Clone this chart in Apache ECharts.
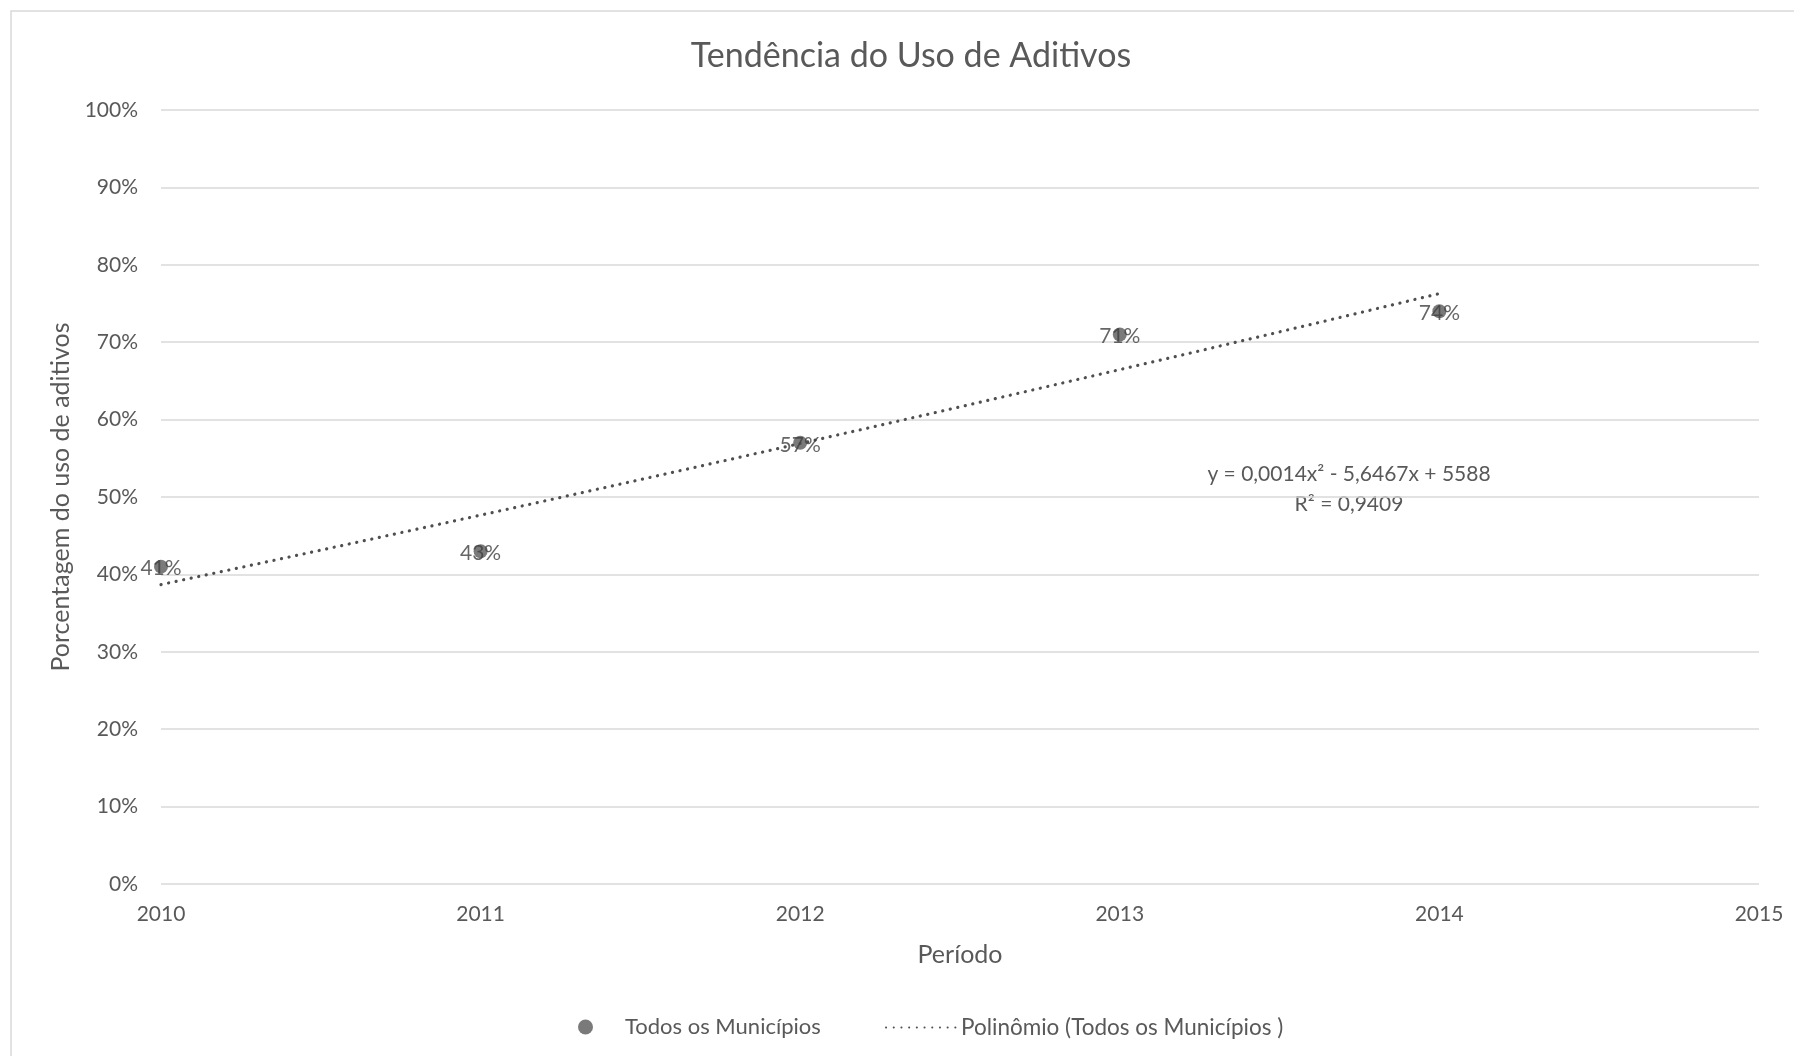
<!DOCTYPE html>
<html>
<head>
<meta charset="utf-8">
<script src="https://cdn.jsdelivr.net/npm/echarts@6/dist/echarts.min.js"></script>
<style>
  html, body { margin: 0; padding: 0; background: #ffffff; }
  #chart { width: 1794px; height: 1056px; }
</style>
</head>
<body>
<div id="chart"></div>
<script>
// Share of municipalities using contract amendments ("aditivos"), per year
const years = [2010, 2011, 2012, 2013, 2014];
const shares = [0.41, 0.43, 0.57, 0.71, 0.74];
const yTicks = [0, 0.1, 0.2, 0.3, 0.4, 0.5, 0.6, 0.7, 0.8, 0.9, 1.0];
const trendEquation = 'y = 0,0014x² - 5,6467x + 5588';
const trendR2 = 'R² = 0,9409';

// Least-squares 2nd-order polynomial of shares over years (trend line)
function quadFit(xs, ys) {
  const x0 = xs.reduce((a, b) => a + b, 0) / xs.length;
  const S = [0, 0, 0, 0, 0], T = [0, 0, 0];
  xs.forEach((x, i) => {
    const t = x - x0;
    for (let k = 0; k < 5; k++) S[k] += Math.pow(t, k);
    for (let k = 0; k < 3; k++) T[k] += ys[i] * Math.pow(t, k);
  });
  // Solve the 3x3 normal equations
  const M = [[S[0], S[1], S[2], T[0]], [S[1], S[2], S[3], T[1]], [S[2], S[3], S[4], T[2]]];
  for (let c = 0; c < 3; c++) {
    for (let r = c + 1; r < 3; r++) {
      const f = M[r][c] / M[c][c];
      for (let k = c; k < 4; k++) M[r][k] -= f * M[c][k];
    }
  }
  const coef = [0, 0, 0];
  for (let r = 2; r >= 0; r--) {
    let s = M[r][3];
    for (let k = r + 1; k < 3; k++) s -= M[r][k] * coef[k];
    coef[r] = s / M[r][r];
  }
  return x => { const t = x - x0; return coef[0] + coef[1] * t + coef[2] * t * t; };
}
const trend = quadFit(years, shares);
const trendData = [];
for (let i = 0; i <= 80; i++) {
  const x = years[0] + (years[years.length - 1] - years[0]) * i / 80;
  trendData.push([x, trend(x)]);
}

const FONT = 'Lato';
const TXT = '#595959';
const SERIES_POINTS = 'Todos os Municípios';
const SERIES_TREND = 'Polinômio (Todos os Municípios )';

const chart = echarts.init(document.getElementById('chart'), null, { renderer: 'canvas' });
chart.setOption({
  animation: false,
  backgroundColor: '#ffffff',
  textStyle: { fontFamily: FONT },
  title: {
    text: 'Tendência do Uso de Aditivos',
    left: 906,
    textAlign: 'center',
    top: 34,
    textStyle: { fontFamily: FONT, fontSize: 34, fontWeight: 'normal', color: TXT }
  },
  grid: { left: 161, right: 35, top: 110, bottom: 172 },
  xAxis: {
    type: 'value',
    min: 2010, max: 2015, interval: 1,
    name: 'Período',
    nameLocation: 'middle',
    nameGap: 58,
    nameTextStyle: { fontFamily: FONT, fontSize: 25, color: TXT },
    axisLine: { show: false },
    axisTick: { show: false },
    splitLine: { show: false },
    axisLabel: {
      margin: 20, fontFamily: FONT, fontSize: 21, color: TXT,
      formatter: v => String(v)
    }
  },
  yAxis: {
    type: 'value',
    min: yTicks[0], max: yTicks[yTicks.length - 1], interval: 0.1,
    name: 'Porcentagem do uso de aditivos',
    nameLocation: 'middle',
    nameGap: 80,
    nameTextStyle: { fontFamily: FONT, fontSize: 25, color: TXT },
    axisLine: { show: false },
    axisTick: { show: false },
    splitLine: { lineStyle: { color: '#d9d9d9', width: 1.5 } },
    axisLabel: {
      margin: 23, fontFamily: FONT, fontSize: 21, color: TXT,
      formatter: v => Math.round(v * 100) + '%'
    }
  },
  legend: [
    {
      left: 573,
      top: 1011,
      itemWidth: 15,
      itemHeight: 15,
      itemGap: 0,
      textStyle: { fontFamily: FONT, fontSize: 22, color: TXT, padding: [0, 0, 0, 27] },
      data: [{ name: SERIES_POINTS, icon: 'circle' }]
    },
    {
      left: 880,
      top: 1011,
      itemWidth: 70,
      itemHeight: 15,
      itemGap: 0,
      textStyle: { fontFamily: FONT, fontSize: 22.5, color: TXT },
      data: [{ name: SERIES_TREND, itemStyle: { opacity: 0 } }]
    }
  ],
  series: [
    {
      name: SERIES_TREND,
      type: 'line',
      data: trendData,
      symbol: 'none',
      z: 2,
      lineStyle: { color: '#4f4f4f', width: 3.2, type: [0.1, 7.6], cap: 'round' },
      itemStyle: { color: '#4f4f4f' }
    },
    {
      name: SERIES_POINTS,
      type: 'scatter',
      data: years.map((y, i) => [y, shares[i]]),
      symbol: 'circle',
      symbolSize: 14,
      z: 3,
      itemStyle: { color: '#595959' },
      label: {
        show: true,
        position: 'inside',
        fontFamily: FONT,
        fontSize: 21,
        color: '#404040',
        offset: [0, 2],
        formatter: p => Math.round(p.value[1] * 100) + '%'
      }
    }
  ],
  graphic: [
    {
      type: 'rect',
      shape: { x: 11, y: 11, width: 1800, height: 1100 },
      style: { fill: null, stroke: '#d9d9d9', lineWidth: 1.5 },
      silent: true, z: -1
    },
    {
      type: 'text',
      x: 1349, y: 474,
      style: { text: trendEquation, font: '21px Lato', fill: TXT, align: 'center', verticalAlign: 'middle' }
    },
    {
      type: 'text',
      x: 1349, y: 504,
      style: { text: trendR2, font: '21px Lato', fill: TXT, align: 'center', verticalAlign: 'middle' }
    }
  ]
});
</script>
</body>
</html>
